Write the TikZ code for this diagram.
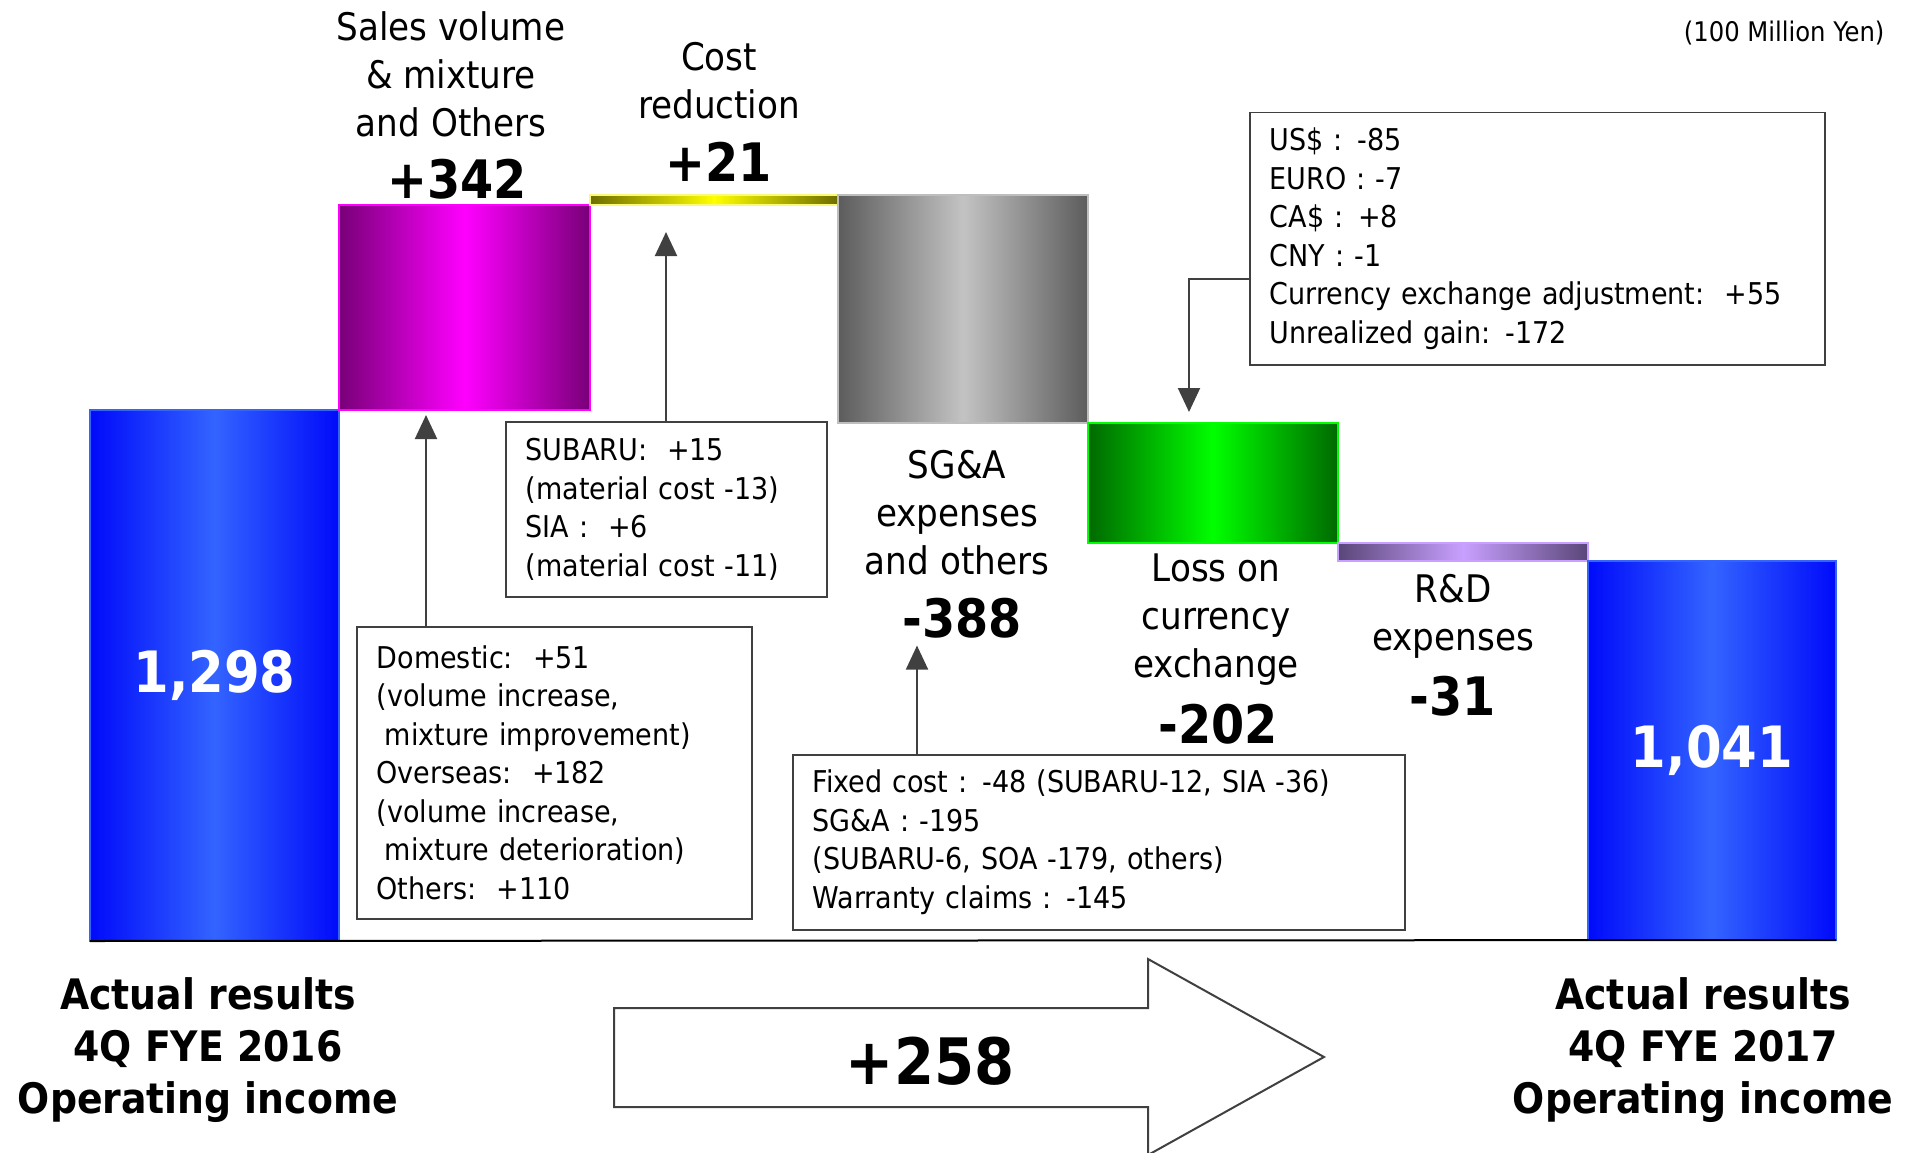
\documentclass[tikz,border=0pt]{standalone}
\usepackage{fontspec}
\setmainfont{DejaVu Sans Condensed}
\usetikzlibrary{arrows.meta,positioning}

\definecolor{blueA}{RGB}{0,10,250}
\definecolor{blueB}{RGB}{51,100,255}
\definecolor{magA}{RGB}{120,0,120}
\definecolor{magB}{RGB}{255,0,255}
\definecolor{yelA}{RGB}{110,110,0}
\definecolor{yelB}{RGB}{255,255,0}
\definecolor{yelE}{RGB}{250,250,120}
\definecolor{grayA}{RGB}{92,92,92}
\definecolor{grayB}{RGB}{195,195,195}
\definecolor{grayE}{RGB}{190,190,190}
\definecolor{grnA}{RGB}{0,105,0}
\definecolor{grnB}{RGB}{0,255,0}
\definecolor{purA}{RGB}{90,70,120}
\definecolor{purB}{RGB}{200,160,255}
\definecolor{callgray}{RGB}{64,64,64}

\tikzset{
  bar/.style={draw, line width=1.5pt, inner sep=0pt, outer sep=0pt},
  lbl/.style={align=center, font=\fontsize{38}{48}\selectfont},
  num/.style={font=\bfseries\fontsize{53}{60}\selectfont},
  total/.style={text=white, font=\bfseries\fontsize{57}{64}\selectfont},
  result/.style={align=center, font=\bfseries\fontsize{42}{52}\selectfont},
  notebox/.style={draw=callgray, line width=1.5pt, anchor=north west,
    inner xsep=20pt, inner ysep=0pt, align=left,
    font=\fontsize{30}{38.5}\selectfont},
  callout/.style={draw=callgray, line width=2pt,
    -{Triangle[length=24pt,width=22pt]}}
}

\begin{document}
\begin{tikzpicture}[x=1pt,y=-1pt]
  \useasboundingbox (0,0) rectangle (1912,1153);

  % waterfall bars
  \node[bar, anchor=south west, draw=blueB, left color=blueA, right color=blueA,
    middle color=blueB, minimum width=249pt, minimum height=531pt, total]
    (start) at (90,941) {1,298};
  \node[bar, anchor=south west, draw=magB, left color=magA, right color=magA,
    middle color=magB, minimum width=251pt, minimum height=205pt]
    (svbar) at (start.north east) {};
  \node[bar, anchor=south west, draw=yelE, left color=yelA, right color=yelA,
    middle color=yelB, minimum width=248pt, minimum height=10pt]
    (crbar) at (svbar.north east) {};
  \node[bar, anchor=north west, draw=grayE, left color=grayA, right color=grayA,
    middle color=grayB, minimum width=250pt, minimum height=228pt]
    (sgbar) at (crbar.north east) {};
  \node[bar, anchor=north west, draw=grnB, left color=grnA, right color=grnA,
    middle color=grnB, minimum width=250pt, minimum height=120pt]
    (fxbar) at (sgbar.south east) {};
  \node[bar, anchor=north west, draw=purB, left color=purA, right color=purA,
    middle color=purB, minimum width=250pt, minimum height=18pt]
    (rdbar) at (fxbar.south east) {};
  \node[bar, anchor=north west, draw=blueB, left color=blueA, right color=blueA,
    middle color=blueB, minimum width=248pt, minimum height=379pt, total]
    (final) at (rdbar.south east) {1,041};
  \draw[line width=2pt] (start.south west) -- (final.south east);

  % item labels
  \node[lbl] (svlbl) at (451,74) {Sales volume\\\& mixture\\and Others};
  \node[num] (svnum) at (457,179) {+342};
  \node[lbl] (crlbl) at (719,81) {Cost\\reduction};
  \node[num] (crnum) at (719,162) {+21};
  \node[lbl] (sglbl) at (957,513) {SG\&A\\expenses\\and others};
  \node[num] (sgnum) at (962,618) {-388};
  \node[lbl] (fxlbl) at (1216,620) {Loss on\\currency\\exchange};
  \node[num] (fxnum) at (1218,724) {-202};
  \node[lbl] (rdlbl) at (1453,616) {R\&D\\expenses};
  \node[num] (rdnum) at (1453,696) {-31};
  \node[anchor=east, font=\fontsize{27}{30}\selectfont] (unit) at (1888,33)
    {(100 Million Yen)};

  % breakdown boxes
  \node[notebox, text width=355pt, minimum height=292pt] (dombox) at (356,626)
    {Domestic:\ \ +51\\(volume increase,\\\hspace*{8pt}mixture improvement)\\
     Overseas:\ \ +182\\(volume increase,\\\hspace*{8pt}mixture deterioration)\\
     Others:\ \ +110};
  \node[notebox, text width=281pt, minimum height=175pt] (subbox) at (505,421)
    {SUBARU:\ \ +15\\(material cost -13)\\SIA : \ +6\\(material cost -11)};
  \node[notebox, text width=572pt, minimum height=175pt] (fixbox) at (792,754)
    {Fixed cost : -48 (SUBARU-12, SIA -36)\\SG\&A : -195\\
     (SUBARU-6, SOA -179, others)\\Warranty claims : -145};
  \node[notebox, text width=535pt, minimum height=252pt] (curbox) at (1249,112)
    {US\$ : -85\\EURO : -7\\CA\$ : +8\\CNY : -1\\
     Currency exchange adjustment:\ \ +55\\Unrealized gain: -172};

  % callouts
  \draw[callout, shorten >=5pt] ([xshift=70pt]dombox.north west)
    -- ([xshift=70pt]dombox.north west |- svbar.south);
  \draw[callout, shorten >=27pt] ([xshift=161pt]subbox.north west)
    -- ([xshift=161pt]subbox.north west |- crbar.south);
  \draw[callout, shorten >=4pt] ([xshift=125pt]fixbox.north west)
    -- ([xshift=125pt]fixbox.north west |- sgnum.south);
  \draw[callout, shorten >=11pt] ([yshift=-40pt]curbox.west)
    -| ([xshift=101pt]fxbar.north west);

  % results
  \node[result] (oldres) at (208,1050) {Actual results\\4Q FYE 2016\\Operating income};
  \node[result] (newres) at (1703,1050) {Actual results\\4Q FYE 2017\\Operating income};

  % total change arrow
  \draw[draw=callgray, line width=2pt, fill=white]
    (614,1008) -- (1148,1008) -- (1148,959) -- (1324,1057)
    -- (1148,1155) -- (1148,1107) -- (614,1107) -- cycle;
  \node[font=\bfseries\fontsize{64}{70}\selectfont] (change) at (930,1061) {+258};
\end{tikzpicture}
\end{document}
